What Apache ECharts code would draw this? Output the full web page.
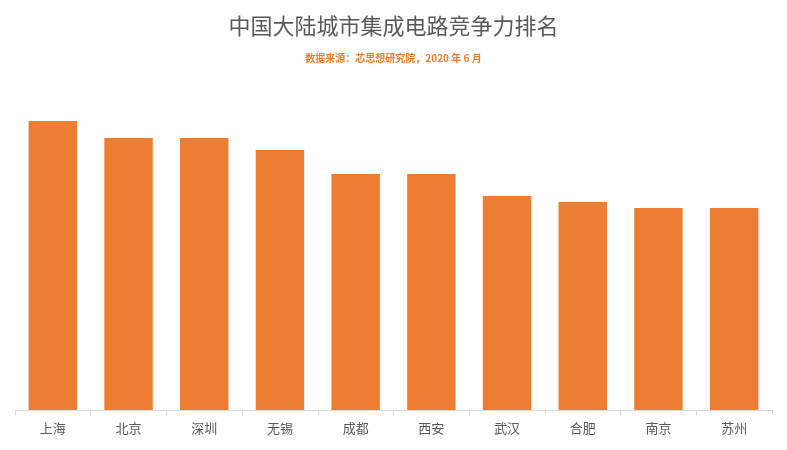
<!DOCTYPE html>
<html><head><meta charset="utf-8">
<script src="https://cdn.jsdelivr.net/npm/echarts@6/dist/echarts.min.js"></script>
<style>html,body{margin:0;background:#fff}#main{width:787px;height:450px}</style>
</head><body><div id="main"></div>
<script>
const cities = ['上海', '北京', '深圳', '无锡', '成都', '西安', '武汉', '合肥', '南京', '苏州'];
// relative scores (no axis in the original)
const scores = [289, 272, 272, 260, 236, 236, 214, 208, 202, 202];

const chart = echarts.init(document.getElementById('main'));
chart.setOption({
  title: {
    text: '中国大陆城市集成电路竞争力排名',
    subtext: '数据来源：芯思想研究院，2020 年 6 月',
    left: 'center', top: 10, itemGap: 16,
    textStyle: { fontFamily: 'Noto Sans CJK SC', fontSize: 22, fontWeight: 'normal', color: '#595959' },
    subtextStyle: { fontFamily: 'Noto Sans CJK SC', fontSize: 10, fontWeight: 'bold', color: '#ED7D31' }
  },
  grid: { left: 15, right: 15, top: 60, bottom: 40 },
  xAxis: {
    type: 'category', data: cities,
    axisLine: { lineStyle: { color: '#d9d9d9' } },
    axisTick: { show: true, lineStyle: { color: '#d9d9d9' } },
    axisLabel: { fontFamily: 'Noto Sans CJK SC', fontSize: 13, color: '#595959', margin: 12 }
  },
  yAxis: { type: 'value', min: 0, max: 350, show: false, splitLine: { show: false } },
  series: [{
    type: 'bar', data: scores, barCategoryGap: '36%',
    itemStyle: { color: '#ED7D31' }
  }]
});
</script></body></html>
